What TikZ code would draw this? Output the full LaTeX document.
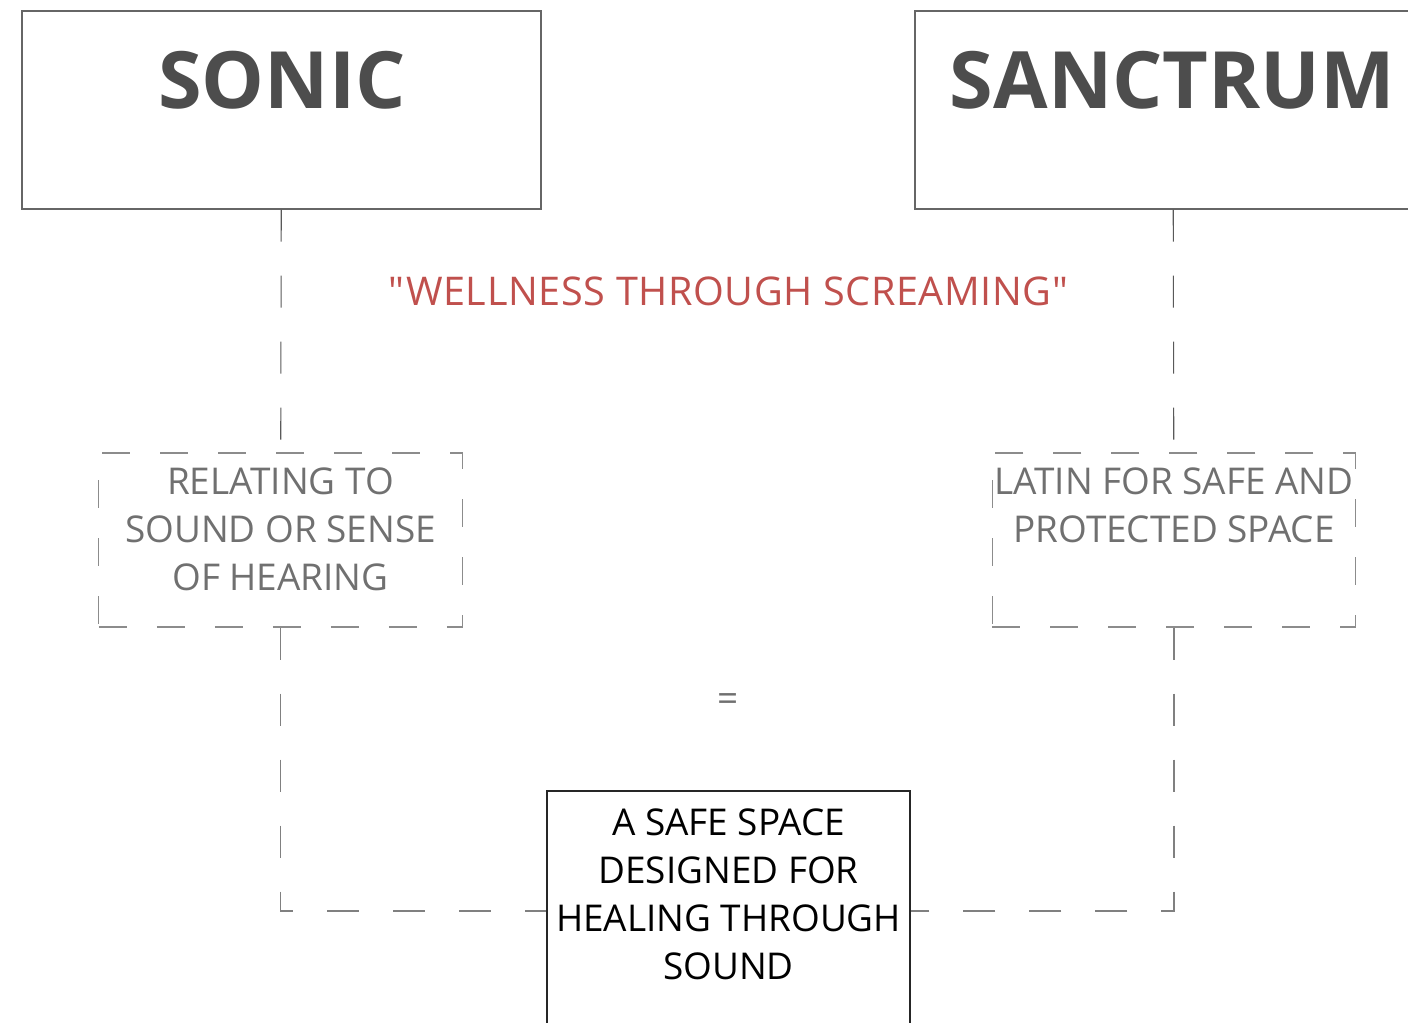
\documentclass[tikz,border=0pt]{standalone}
\usepackage{fontspec}
\setmainfont{Open Sans}
\newfontfamily\spacedfont[LetterSpace=1.5]{Open Sans}
\usepackage{tikz}
\definecolor{titlegray}{HTML}{4D4D4D}
\definecolor{textgray}{HTML}{707070}
\definecolor{linegray}{HTML}{8C8C8C}
\definecolor{quotered}{HTML}{C0504D}

\begin{document}
\begin{tikzpicture}[
	titlebox/.style={shape=rectangle,draw=black!60,line width=.6pt,minimum width=#1,minimum height=3.96cm},
	titletext/.style={anchor=base,text=titlegray,font=\bfseries\fontsize{45}{50}\selectfont},
	defbox/.style={shape=rectangle,draw=linegray,line width=.6pt,dash pattern=on .56cm off .6cm,minimum width=7.27cm,minimum height=3.48cm},
	deftext/.style={anchor=north,align=center,text=textgray,inner sep=0pt,font=\fontsize{21}{27.3}\selectfont},
	link/.style={line width=.6pt,dash pattern=on .64cm off .68cm}
	]
			\clip (0,0) rectangle (28.16,-20.46);
			
			\node[titlebox=10.38cm] (sonic) at (5.63,-2.2) {};
			\node[titlebox=10.32cm] (sanctrum) at (23.46,-2.2) {};
			\node[titletext] (sonicname) at (5.64,-2.16) {SONIC};
			\node[titletext] (sanctrumname) at (23.45,-2.16) {SANCTRUM};
			
			\node[anchor=base,text=quotered,font=\spacedfont\fontsize{22.5}{27}\selectfont] (motto) at (14.57,-6.1) {"WELLNESS THROUGH SCREAMING"};
			
			\node[defbox] (sonicdef) at (5.61,-10.8) {};
			\node[defbox] (sanctrumdef) at (23.48,-10.8) {};
			\node[deftext] (sonicmeaning) at (5.61,-9.34) {RELATING TO\\SOUND OR SENSE\\OF HEARING};
			\node[deftext] (sanctrummeaning) at (23.48,-9.34) {LATIN FOR SAFE AND\\PROTECTED SPACE};
			
			\node[text=textgray,font=\fontsize{21}{27.3}\selectfont] (equals) at (14.56,-14.06) {=};
			
			\node[shape=rectangle,draw=black!85,line width=.6pt,minimum width=7.26cm,minimum height=4.8cm] (result) at (14.57,-18.22) {};
			\node[anchor=north,align=center,inner sep=0pt,font=\fontsize{21}{27.3}\selectfont] (resulttext) at (14.57,-16.16) {A SAFE SPACE\\DESIGNED FOR\\HEALING THROUGH\\SOUND};
			
			\path [-, link, black!65] (sonic) edge (sonicdef);
			\path [-, link, black!65] (sanctrum) edge (sanctrumdef);
			\draw [-, link, black!50] (sonicdef.south) |- (result.west);
			\draw [-, link, black!50] (sanctrumdef.south) |- (result.east);
			%\draw [-, link, black!50] (equals) -- (result);
\end{tikzpicture}
\end{document}
